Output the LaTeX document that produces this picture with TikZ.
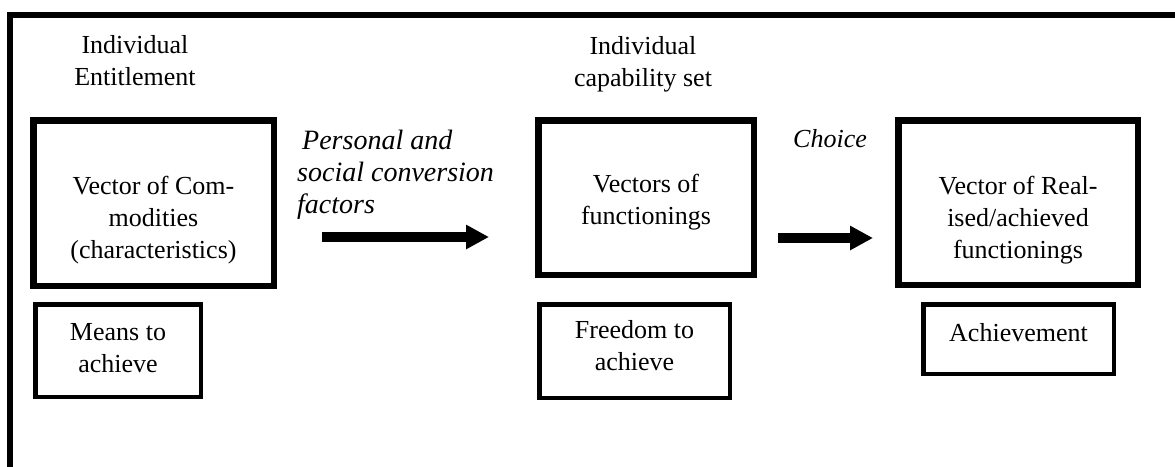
\documentclass[tikz,border=0pt]{standalone}
\usepackage{fontspec}
\setmainfont{Liberation Serif}
\usetikzlibrary{arrows.meta}

\tikzset{
  bigbox/.style={draw, line width=6.5pt, inner sep=0pt},
  smallbox/.style={draw, line width=4.5pt, inner sep=0pt},
  txt/.style={font=\fontsize{26}{32}\selectfont, align=center, inner sep=0pt},
  itxt/.style={txt, font=\fontsize{26}{32}\selectfont\itshape},
  widetxt/.style={txt, font=\fontsize{28}{32}\selectfont\itshape},
  blockarrow/.style={line width=10pt, -{Triangle[length=23pt, width=23pt]}},
  frameline/.style={line width=6pt}
}

\begin{document}
\begin{tikzpicture}[x=1pt, y=-1pt]
  \useasboundingbox (0,0) rectangle (1175,466);
  \clip (0,0) rectangle (1175,466);

  % outer frame (only its top and left sides fall inside the page)
  \draw[frameline] (10,480) -- (10,15) -- (1190,15);

  % headings
  \node[txt] (hent) at (135,61) {Individual\\Entitlement};
  \node[txt] (hcap) at (643,64) {Individual\\capability set};

  % main boxes
  \node[bigbox, minimum width=240.5pt, minimum height=165.5pt] (comm) at (153.5,203) {};
  \node[bigbox, minimum width=215.5pt, minimum height=154.5pt] (func) at (646,197.5) {};
  \node[bigbox, minimum width=239.5pt, minimum height=164.5pt] (real) at (1018,202.5) {};

  \node[txt] (tcomm) at (153.5,220) {Vector of Com-\\modities\\(characteristics)};
  \node[txt] (tfunc) at (646,202) {Vectors of\\functionings};
  \node[txt] (treal) at (1018,220) {Vector of Real-\\ised/achieved\\functionings};

  % lower boxes
  \node[smallbox, minimum width=165.5pt, minimum height=92.5pt] (means) at (118,350.5) {};
  \node[smallbox, minimum width=190.5pt, minimum height=93.5pt] (free) at (634.5,351) {};
  \node[smallbox, minimum width=190.5pt, minimum height=69.5pt] (ach) at (1018.5,339) {};

  \node[txt] (tmeans) at (118,348.5) {Means to\\achieve};
  \node[txt] (tfree) at (634.5,346) {Freedom to\\achieve};
  \node[txt] (tach) at (1018.5,333) {Achievement};

  % arrow labels
  \node[widetxt, align=left, anchor=west] (conv) at (297,175)
    {\hspace{5pt}Personal and\\social conversion\\factors};
  \node[itxt] (choice) at (830,139) {Choice};

  % block arrows
  \coordinate (a1s) at (322,237);
  \coordinate (a1e) at (489,237);
  \coordinate (a2s) at (778,238);
  \coordinate (a2e) at (873,238);
  \draw[blockarrow] (a1s) -- (a1e);
  \draw[blockarrow] (a2s) -- (a2e);
\end{tikzpicture}
\end{document}
